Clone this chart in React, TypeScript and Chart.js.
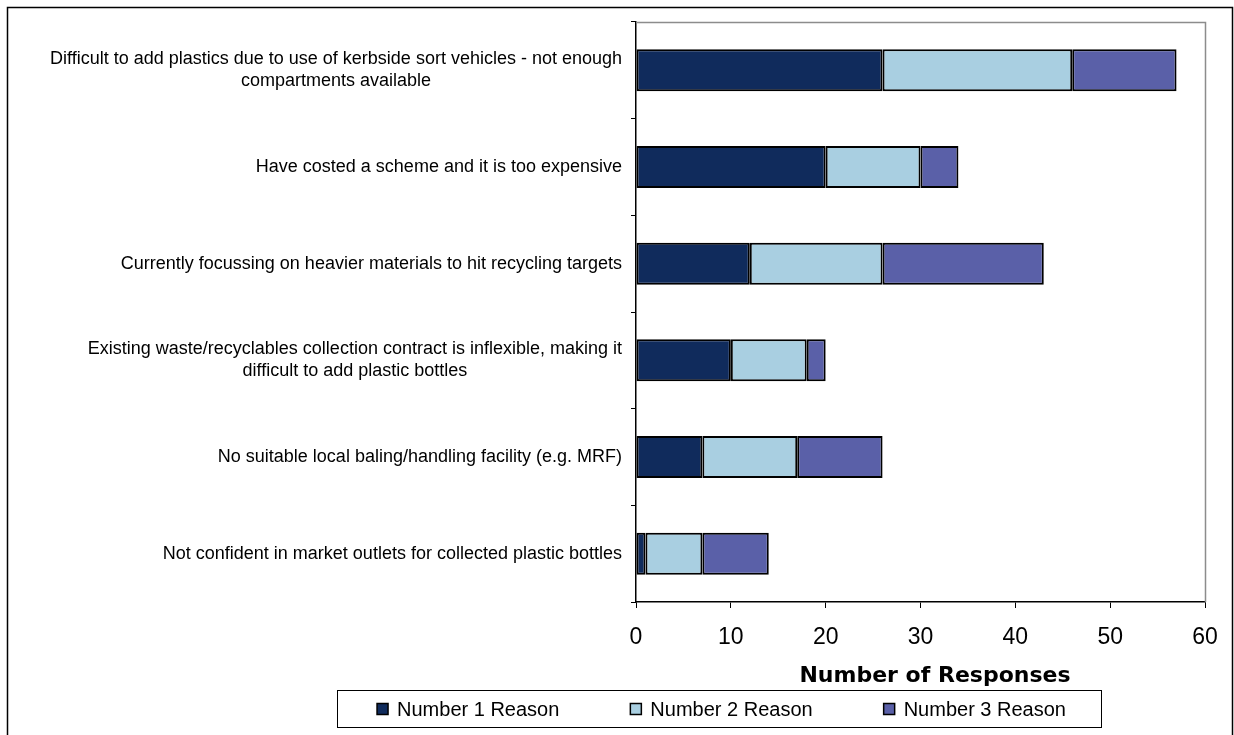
import React, { useEffect, useRef } from "react";
import { Chart, registerables } from "chart.js";

Chart.register(...registerables);

// Reasons given (each entry is the wrapped lines of one axis label)
const categories: string[][] = [
  ["Difficult to add plastics due to use of kerbside sort vehicles - not enough", "compartments available"],
  ["Have costed a scheme and it is too expensive"],
  ["Currently focussing on heavier materials to hit recycling targets"],
  ["Existing waste/recyclables collection contract is inflexible, making it", "difficult to add plastic bottles"],
  ["No suitable local baling/handling facility (e.g. MRF)"],
  ["Not confident in market outlets for collected plastic bottles"],
];

// Responses per rank
const reason1 = [26, 20, 12, 10, 7, 1];
const reason2 = [20, 10, 14, 8, 10, 6];
const reason3 = [11, 4, 17, 2, 9, 7];

const seriesNames = ["Number 1 Reason", "Number 2 Reason", "Number 3 Reason"];
const seriesColors = ["#102b5c", "#a9cfe1", "#5a60a8"];

const xMin = 0;
const xMax = 60;
const xStep = 10;
const axisTitle = "Number of Responses";

const W = 1234;
const H = 735;
const PLOT_LEFT = 636;
const PLOT_TOP = 22;
const PLOT_RIGHT = 1205;
const PLOT_BOTTOM = 602;

const labelFont = "18px 'Liberation Sans', Arial, sans-serif";
const legendFont = "20px 'Liberation Sans', Arial, sans-serif";
const titleFont = "bold 22px 'DejaVu Sans', Verdana, sans-serif";

const decorPlugin = {
  id: "decor",
  afterDraw(chart: any) {
    const { ctx, chartArea, scales } = chart;
    const yScale = scales.y;
    ctx.save();

    // outer chart frame
    ctx.strokeStyle = "#000";
    ctx.lineWidth = 1.5;
    ctx.strokeRect(7.5, 7.5, 1225, 760);

    // grey plot-area frame (top and right)
    ctx.strokeStyle = "#8c8c8c";
    ctx.lineWidth = 1.5;
    ctx.beginPath();
    ctx.moveTo(chartArea.left, chartArea.top + 0.5);
    ctx.lineTo(chartArea.right + 0.5, chartArea.top + 0.5);
    ctx.lineTo(chartArea.right + 0.5, chartArea.bottom);
    ctx.stroke();

    // category labels: block right-aligned to the axis, lines centred within it
    ctx.font = labelFont;
    ctx.fillStyle = "#000";
    ctx.textBaseline = "middle";
    ctx.textAlign = "center";
    const lineH = 22;
    const rightEdge = chartArea.left - 14;
    (chart.data.labels as string[][]).forEach((lines, i) => {
      const cy = yScale.getPixelForValue(i);
      const maxW = Math.max(...lines.map((l) => ctx.measureText(l).width));
      const cx = rightEdge - maxW / 2;
      const y0 = cy - ((lines.length - 1) * lineH) / 2;
      lines.forEach((l, k) => ctx.fillText(l, cx, y0 + k * lineH));
    });

    // axis title
    ctx.font = titleFont;
    ctx.textAlign = "center";
    ctx.fillText(axisTitle, 935, 676);

    // legend box
    const boxX = 337.5;
    const boxY = 690.5;
    const boxW = 764;
    const boxH = 37;
    ctx.strokeStyle = "#000";
    ctx.lineWidth = 1;
    ctx.strokeRect(boxX, boxY, boxW, boxH);
    ctx.font = legendFont;
    const marker = 11;
    const gapMarker = 9;
    const gapItem = 71;
    const ds = chart.data.datasets;
    const widths = ds.map((d: any) => marker + gapMarker + ctx.measureText(d.label).width);
    const total = widths.reduce((a: number, b: number) => a + b, 0) + gapItem * (ds.length - 1);
    let x = boxX + (boxW - total) / 2 + 2;
    const cy = boxY + boxH / 2;
    ctx.textAlign = "left";
    ds.forEach((d: any, i: number) => {
      ctx.fillStyle = d.backgroundColor;
      ctx.fillRect(x, cy - marker / 2, marker, marker);
      ctx.strokeStyle = "#000";
      ctx.lineWidth = 1.5;
      ctx.strokeRect(x, cy - marker / 2, marker, marker);
      ctx.fillStyle = "#000";
      ctx.fillText(d.label, x + marker + gapMarker, cy + 1);
      x += widths[i] + gapItem;
    });

    ctx.restore();
  },
};

export default function App() {
  const canvasRef = useRef<HTMLCanvasElement | null>(null);

  useEffect(() => {
    document.body.style.margin = "0";
    const canvas = canvasRef.current;
    if (!canvas) return;
    const values = [reason1, reason2, reason3];
    const chart = new Chart(canvas, {
      type: "bar",
      data: {
        labels: categories as any,
        datasets: seriesNames.map((name, i) => ({
          label: name,
          data: values[i],
          backgroundColor: seriesColors[i],
          borderColor: "#000",
          borderWidth: 2,
          borderSkipped: false,
          barPercentage: 0.87,
          categoryPercentage: 0.5,
        })),
      },
      options: {
        indexAxis: "y",
        responsive: false,
        animation: false,
        devicePixelRatio: 1,
        layout: {
          padding: { top: PLOT_TOP, right: W - PLOT_RIGHT, left: 0, bottom: 0 },
        },
        plugins: {
          legend: { display: false },
          tooltip: { enabled: false },
          title: { display: false },
        },
        scales: {
          x: {
            stacked: true,
            min: xMin,
            max: xMax,
            position: "bottom",
            ticks: {
              stepSize: xStep,
              color: "#000",
              padding: 16,
              font: { family: "'Liberation Sans', Arial, sans-serif", size: 23 },
            },
            grid: {
              drawOnChartArea: false,
              drawTicks: true,
              tickLength: 6,
              color: "#000",
              lineWidth: 1,
            },
            border: { color: "#000", width: 1.5 },
            afterFit(scale: any) {
              scale.height = H - PLOT_BOTTOM;
            },
          },
          y: {
            stacked: true,
            ticks: { display: false },
            grid: {
              drawOnChartArea: false,
              drawTicks: true,
              tickLength: 5,
              color: "#000",
              lineWidth: 1,
            },
            border: { color: "#000", width: 1.5 },
            afterFit(scale: any) {
              scale.width = PLOT_LEFT;
            },
          },
        },
      },
      plugins: [decorPlugin],
    });
    return () => chart.destroy();
  }, []);

  return (
    <div style={{ width: W, height: H, background: "#fff" }}>
      <canvas ref={canvasRef} width={W} height={H} style={{ display: "block" }} />
    </div>
  );
}
